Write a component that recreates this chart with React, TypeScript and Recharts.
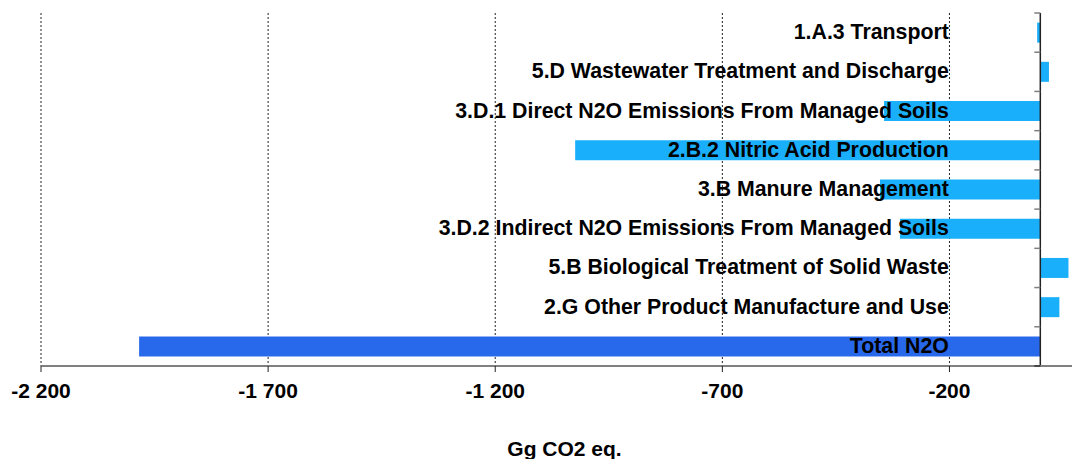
import React from 'react';
import { BarChart, Bar, XAxis, YAxis, CartesianGrid, ReferenceLine, LabelList, Cell, Label } from 'recharts';

const categories: string[] = [
  '1.A.3 Transport',
  '5.D Wastewater Treatment and Discharge',
  '3.D.1 Direct N2O Emissions From Managed Soils',
  '2.B.2 Nitric Acid Production',
  '3.B Manure Management',
  '3.D.2 Indirect N2O Emissions From Managed Soils',
  '5.B Biological Treatment of Solid Waste',
  '2.G Other Product Manufacture and Use',
  'Total N2O',
];
const values: number[] = [-7, 19, -344, -1024, -353, -309, 62, 42, -1984];
const isTotal: boolean[] = [false, false, false, false, false, false, false, false, true];
const xTicks: number[] = [-2200, -1700, -1200, -700, -200];
const xDomain: [number, number] = [-2200, 105];
const axisTitle = 'Gg CO2 eq.';

const data = categories.map((name, i) => ({ name, value: values[i] }));

const COLOR_SECTOR = '#1AAFFA';
const COLOR_TOTAL = '#2868EB';
const FONT = 'Arial, "Liberation Sans", Helvetica, sans-serif';
const GAP = 0.245;

const fmt = (v: number) => {
  const s = Math.abs(v).toString().replace(/\B(?=(\d{3})+(?!\d))/g, ' ');
  return (v < 0 ? '-' : '') + s;
};

const CategoryLabel = (props: any) => {
  const vb = props.viewBox || props;
  const x = Number(vb.x ?? props.x);
  const y = Number(vb.y ?? props.y);
  const width = Number(vb.width ?? props.width);
  const height = Number(vb.height ?? props.height);
  const idx = props.index as number;
  const v = values[idx];
  const zero = v >= 0 ? Math.min(x, x + width) : Math.max(x, x + width);
  const cy = y + height / 2;
  const band = height / (1 - 2 * GAP);
  const top = cy - band / 2;
  const bottom = cy + band / 2;
  return (
    <g>
      <line x1={zero - 6} x2={zero} y1={top} y2={top} stroke="#7f7f7f" strokeWidth={1.5} />
      {idx === categories.length - 1 && (
        <line x1={zero - 6} x2={zero} y1={bottom} y2={bottom} stroke="#333" strokeWidth={1.5} />
      )}
      <text
        x={zero - 91.5}
        y={cy + 6.5}
        textAnchor="end"
        fontFamily={FONT}
        fontWeight="bold"
        fontSize={21.3}
        fill="#000"
      >
        {props.value}
      </text>
    </g>
  );
};

export default function App() {
  return (
    <div style={{ position: 'absolute', left: 0, top: 0, width: 1072, height: 459, overflow: 'hidden', background: '#fff' }}>
      <BarChart
        width={1088}
        height={459}
        data={data}
        layout="vertical"
        margin={{ top: 13, right: 0, bottom: 0, left: 41 }}
        barCategoryGap={`${GAP * 100}%`}
      >
        <CartesianGrid horizontal={false} vertical={true} stroke="#222" strokeDasharray="2 2" />
        <XAxis
          type="number"
          domain={xDomain}
          ticks={xTicks}
          allowDataOverflow={false}
          tickFormatter={fmt}
          height={93}
          axisLine={{ stroke: '#808080', strokeWidth: 2 }}
          tickLine={{ stroke: '#222', strokeWidth: 1 }}
          tickSize={6}
          tickMargin={11}
          tick={{ fontFamily: FONT, fontWeight: 'bold', fontSize: 21, fill: '#000' }}
        >
          <Label
            value={axisTitle}
            position="insideBottom"
            offset={3}
            style={{ fontFamily: FONT, fontWeight: 'bold', fontSize: 21, fill: '#000' }}
          />
        </XAxis>
        <YAxis type="category" dataKey="name" hide />
        <Bar dataKey="value" isAnimationActive={false}>
          {data.map((d, i) => (
            <Cell key={d.name} fill={isTotal[i] ? COLOR_TOTAL : COLOR_SECTOR} />
          ))}
          <LabelList dataKey="name" content={CategoryLabel} />
        </Bar>
        <ReferenceLine x={0} stroke="#222" strokeWidth={1.5} ifOverflow="visible" />
      </BarChart>
    </div>
  );
}
